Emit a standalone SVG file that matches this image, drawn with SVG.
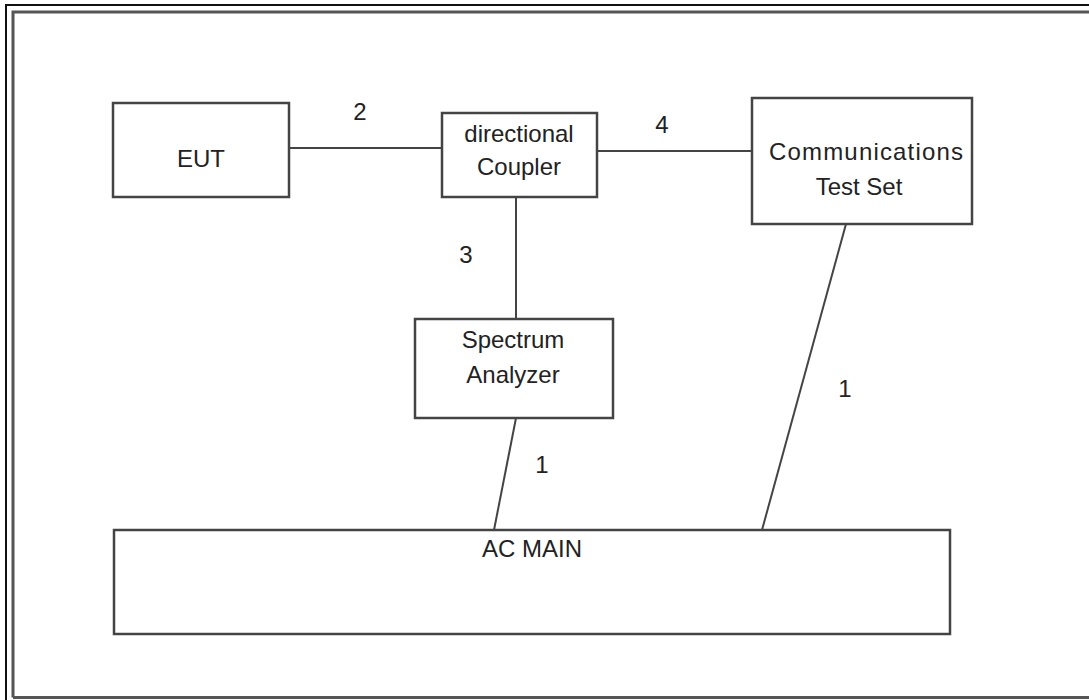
<svg xmlns="http://www.w3.org/2000/svg" width="1089" height="700" viewBox="0 0 1089 700">
<style>
.box{fill:#fff;stroke:#444;stroke-width:2.5}
.ln{stroke:#444;stroke-width:2;fill:none}
text{font-family:"Liberation Sans",Arial,sans-serif;font-size:24px;fill:#222;text-anchor:middle}
</style>
<rect width="1089" height="700" fill="#fff"/>
<g id="frame">
<path d="M6 705 V5 H1095" fill="none" stroke="#111" stroke-width="2"/>
<path d="M13 697.5 V12 H1095 M13 697.5 H1095" fill="none" stroke="#555" stroke-width="3"/>
</g>
<g id="connectors">
<line class="ln" x1="289" y1="148" x2="442" y2="148"/>
<line class="ln" x1="598" y1="151" x2="752" y2="151"/>
<line class="ln" x1="516" y1="197" x2="516" y2="319"/>
<line class="ln" x1="516" y1="418" x2="494" y2="530"/>
<line class="ln" x1="846" y1="224" x2="762" y2="530"/>
<text x="360" y="120">2</text>
<text x="662" y="133">4</text>
<text x="466" y="263">3</text>
<text x="542" y="473">1</text>
<text x="845" y="397">1</text>
</g>
<g id="eut">
<rect class="box" x="113" y="103" width="176" height="94"/>
<text x="201" y="167">EUT</text>
</g>
<g id="coupler">
<rect class="box" x="442" y="113" width="155" height="84"/>
<text x="519" y="142">directional</text>
<text x="519" y="175">Coupler</text>
</g>
<g id="testset">
<rect class="box" x="752" y="98" width="220" height="126"/>
<text x="866" y="160" textLength="194" lengthAdjust="spacing">Communications</text>
<text x="859" y="195">Test Set</text>
</g>
<g id="analyzer">
<rect class="box" x="415" y="319" width="198" height="99"/>
<text x="513" y="348">Spectrum</text>
<text x="513" y="383">Analyzer</text>
</g>
<g id="acmain">
<rect class="box" x="114" y="530" width="836" height="104"/>
<text x="532" y="557">AC MAIN</text>
</g>
</svg>
